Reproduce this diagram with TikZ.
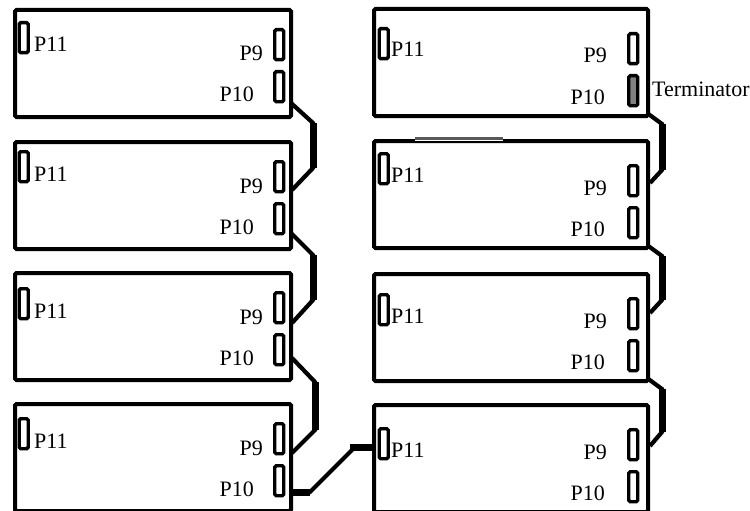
\documentclass[tikz,border=0pt]{standalone}
\usepackage{fontspec}
\setmainfont{Liberation Serif}
\begin{document}
\begin{tikzpicture}[x=1pt,y=-1pt,
  board/.style={draw, line width=4pt, rounded corners=1.5pt, anchor=north west, inner sep=0pt, minimum height=107pt},
  port/.style={draw, line width=3.4pt, rounded corners=1.5pt, anchor=north west, inner sep=0pt, minimum width=9pt, minimum height=30pt},
  lbl/.style={font=\fontsize{22}{24}\selectfont, inner sep=0pt},
  wire/.style={line width=4.2pt, line join=miter},
  bus/.style={line width=7pt}]
\useasboundingbox (0,0) rectangle (750,511);
\fill[white] (0,0) rectangle (750,511);
% left boards
\foreach \n/\t/\p in {1/8/21,2/140/150,3/271/287,4/402/417}{
  \node[board, minimum width=276pt] (L\n) at (13,\t) {};
  \node[port] (L\n a) at (17.5,\p) {};
  \node[lbl, anchor=base west] (L\n al) at (34,\p+31) {P11};
  \node[port] (L\n b) at (273,\t+20) {};
  \node[lbl, anchor=base east] (L\n bl) at (263,\t+53) {P9};
  \node[port] (L\n c) at (273,\t+62) {};
  \node[lbl, anchor=base east] (L\n cl) at (254,\t+94) {P10};
}
% right boards
\foreach \n/\t/\p in {1/7/27,2/139/152,3/272/293,4/403/427}{
  \node[board, minimum width=274pt] (R\n) at (372,\t) {};
  \node[port] (R\n a) at (377.5,\p) {};
  \node[lbl, anchor=base west] (R\n al) at (391,\p+30) {P11};
  \node[lbl, anchor=base east] (R\n bl) at (607,\t+56) {P9};
  \node[lbl, anchor=base east] (R\n cl) at (605,\t+97) {P10};
}
\foreach \n/\t in {2/139,3/272,4/403}{
  \node[port] (R\n b) at (627,\t+25) {};
  \node[port] (R\n c) at (627,\t+67) {};
}
\node[port] (R1b) at (627,32) {};
\node[port, fill=gray] (R1c) at (627,74) {};
\node[lbl, anchor=base west] (term) at (652,96) {Terminator};
% faint segment on top of R2
\draw[white, line width=4.4pt] (415,139) -- (503,139);
\draw[black!65, line width=2.2pt] (415,138.5) -- (503,138.5);
% left chain wires
\draw[wire] (291,103) -- (313,123) -- (313,168) -- (292,190);
\draw[bus] (313,123) -- (313,168);
\draw[wire] (291,233) -- (313,255) -- (313,300) -- (292,323);
\draw[bus] (313,255) -- (313,300);
\draw[wire] (292,358) -- (315,382) -- (315,430) -- (292,453);
\draw[bus] (315,382) -- (315,430);
% link to right column
\draw[wire] (292,492) -- (310,492) -- (355,447) -- (373,447);
\draw[bus] (292,492) -- (310,492);
\draw[bus] (350,447) -- (373,447);
% right chain wires
\draw[wire] (647,113) -- (662,124) -- (662,170) -- (650,183);
\draw[bus] (662,124) -- (662,170);
\draw[wire] (647,245) -- (662,256) -- (662,300) -- (650,313);
\draw[bus] (662,256) -- (662,300);
\draw[wire] (647,378) -- (662,389) -- (662,432) -- (650,446);
\draw[bus] (662,389) -- (662,432);
\end{tikzpicture}
\end{document}
